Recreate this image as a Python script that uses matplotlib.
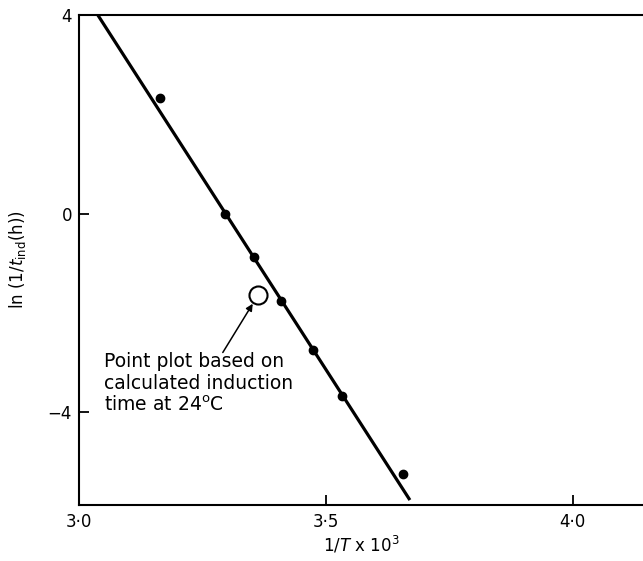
import matplotlib
matplotlib.use("Agg")
import matplotlib.pyplot as plt

# measured points, 1/T x 10^3 vs ln(1/t_ind)
inv_T = [3.164, 3.296, 3.354, 3.409, 3.474, 3.532, 3.656]
ln_rate = [2.32, 0.0, -0.87, -1.77, -2.74, -3.67, -5.24]

# fitted straight line (end points)
fit_x = [3.038, 3.670]
fit_y = [4.0, -5.77]

# point from calculated induction time at 24 C
calc_x = 3.362
calc_y = -1.65

xticks = [3.0, 3.5, 4.0]
xticklabels = ["3·0", "3·5", "4·0"]
yticks = [4, 0, -4]
yticklabels = ["4", "0", "\u22124"]

fig = plt.figure(figsize=(6.43, 5.61), dpi=100)
ax = fig.add_axes([0.1229, 0.0998, 0.8771, 0.8735])

ax.plot(fit_x, fit_y, color="black", lw=2.3, solid_capstyle="butt", zorder=2)
ax.plot(inv_T, ln_rate, "o", color="black", ms=6, zorder=3)
ax.plot([calc_x], [calc_y], "o", mfc="white", mec="black", mew=1.5, ms=13, zorder=3)

ax.annotate("", xy=(calc_x, calc_y), xytext=(-35, -57), textcoords="offset pixels",
            arrowprops=dict(arrowstyle="-|>", color="black", lw=1.1,
                            mutation_scale=10, shrinkA=0, shrinkB=7))
fig.text(104 / 643, 1 - 352 / 561,
         "Point plot based on\ncalculated induction\ntime at 24$^{\\rm o}$C",
         fontsize=13.5, va="top", ha="left", linespacing=1.2)

ax.set_xlim(3.0, 4.142)
ax.set_ylim(-5.87, 4.0)
ax.set_xticks(xticks)
ax.set_xticklabels(xticklabels)
ax.set_yticks(yticks)
ax.set_yticklabels(yticklabels)
ax.tick_params(direction="in", length=7, width=1.3, labelsize=12, pad=6)
ax.tick_params(axis="y", pad=5)

for s in ["left", "bottom", "top"]:
    ax.spines[s].set_linewidth(1.5)
ax.spines["right"].set_visible(False)

ax.set_xlabel("1/$T$ x 10$^3$", fontsize=12, labelpad=2)
ax.set_ylabel("ln (1/$t_{\\rm ind}$(h))", fontsize=12, labelpad=14)

fig.savefig("out.png", dpi=100)
